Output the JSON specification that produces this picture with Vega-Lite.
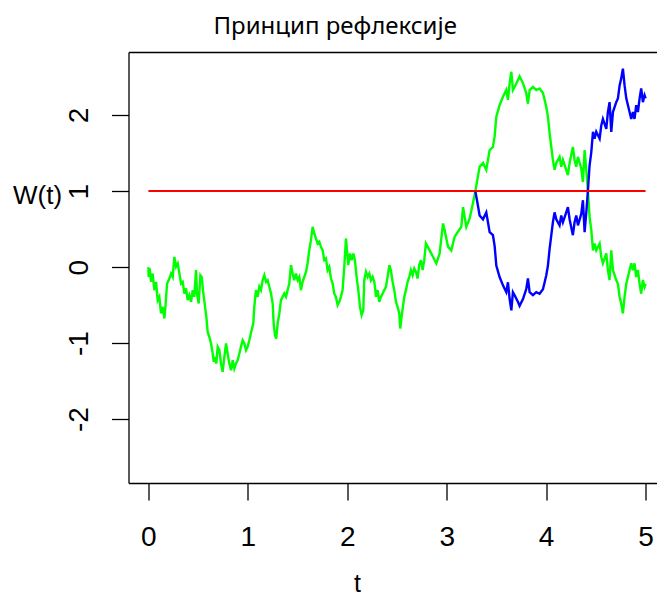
{
  "$schema": "https://vega.github.io/schema/vega-lite/v6.json",
  "width": 529,
  "height": 431,
  "autosize": {"type": "none"},
  "padding": {"left": 128.5, "top": 52, "right": 0, "bottom": 114},
  "background": "white",
  "title": {"text": "Принцип рефлексије", "anchor": "start", "frame": "group", "dx": 85, "offset": -6, "baseline": "alphabetic", "font": "Noto Sans", "fontSize": 24, "fontWeight": "normal", "color": "#000000"},
  "config": {"view": {"stroke": null}, "axis": {"grid": false}},
  "datasets": {
    "paths": [
      {"t": 0.000, "w": 0.000, "s": "g"},
      {"t": 0.003, "w": -0.128, "s": "g"},
      {"t": 0.013, "w": -0.018, "s": "g"},
      {"t": 0.027, "w": -0.194, "s": "g"},
      {"t": 0.043, "w": -0.084, "s": "g"},
      {"t": 0.060, "w": -0.303, "s": "g"},
      {"t": 0.077, "w": -0.194, "s": "g"},
      {"t": 0.094, "w": -0.435, "s": "g"},
      {"t": 0.110, "w": -0.391, "s": "g"},
      {"t": 0.127, "w": -0.610, "s": "g"},
      {"t": 0.144, "w": -0.523, "s": "g"},
      {"t": 0.161, "w": -0.676, "s": "g"},
      {"t": 0.171, "w": -0.523, "s": "g"},
      {"t": 0.188, "w": -0.215, "s": "g"},
      {"t": 0.211, "w": -0.150, "s": "g"},
      {"t": 0.228, "w": -0.084, "s": "g"},
      {"t": 0.245, "w": -0.128, "s": "g"},
      {"t": 0.261, "w": 0.135, "s": "g"},
      {"t": 0.278, "w": 0.004, "s": "g"},
      {"t": 0.295, "w": 0.048, "s": "g"},
      {"t": 0.312, "w": -0.084, "s": "g"},
      {"t": 0.328, "w": -0.215, "s": "g"},
      {"t": 0.345, "w": -0.194, "s": "g"},
      {"t": 0.362, "w": -0.347, "s": "g"},
      {"t": 0.379, "w": -0.281, "s": "g"},
      {"t": 0.395, "w": -0.435, "s": "g"},
      {"t": 0.412, "w": -0.369, "s": "g"},
      {"t": 0.429, "w": -0.457, "s": "g"},
      {"t": 0.446, "w": -0.303, "s": "g"},
      {"t": 0.462, "w": -0.391, "s": "g"},
      {"t": 0.479, "w": -0.040, "s": "g"},
      {"t": 0.489, "w": -0.347, "s": "g"},
      {"t": 0.506, "w": -0.479, "s": "g"},
      {"t": 0.523, "w": -0.106, "s": "g"},
      {"t": 0.536, "w": -0.128, "s": "g"},
      {"t": 0.549, "w": -0.303, "s": "g"},
      {"t": 0.570, "w": -0.523, "s": "g"},
      {"t": 0.583, "w": -0.654, "s": "g"},
      {"t": 0.596, "w": -0.852, "s": "g"},
      {"t": 0.613, "w": -0.918, "s": "g"},
      {"t": 0.630, "w": -1.005, "s": "g"},
      {"t": 0.647, "w": -1.137, "s": "g"},
      {"t": 0.657, "w": -1.247, "s": "g"},
      {"t": 0.670, "w": -1.181, "s": "g"},
      {"t": 0.683, "w": -1.269, "s": "g"},
      {"t": 0.697, "w": -1.049, "s": "g"},
      {"t": 0.714, "w": -1.093, "s": "g"},
      {"t": 0.730, "w": -1.269, "s": "g"},
      {"t": 0.747, "w": -1.378, "s": "g"},
      {"t": 0.764, "w": -1.181, "s": "g"},
      {"t": 0.781, "w": -1.005, "s": "g"},
      {"t": 0.797, "w": -1.137, "s": "g"},
      {"t": 0.814, "w": -1.269, "s": "g"},
      {"t": 0.831, "w": -1.357, "s": "g"},
      {"t": 0.848, "w": -1.225, "s": "g"},
      {"t": 0.864, "w": -1.335, "s": "g"},
      {"t": 0.881, "w": -1.269, "s": "g"},
      {"t": 0.898, "w": -1.225, "s": "g"},
      {"t": 0.915, "w": -1.137, "s": "g"},
      {"t": 0.931, "w": -1.049, "s": "g"},
      {"t": 0.948, "w": -0.962, "s": "g"},
      {"t": 0.965, "w": -1.005, "s": "g"},
      {"t": 0.982, "w": -1.093, "s": "g"},
      {"t": 0.998, "w": -1.049, "s": "g"},
      {"t": 1.015, "w": -0.962, "s": "g"},
      {"t": 1.038, "w": -0.830, "s": "g"},
      {"t": 1.055, "w": -0.742, "s": "g"},
      {"t": 1.065, "w": -0.523, "s": "g"},
      {"t": 1.082, "w": -0.303, "s": "g"},
      {"t": 1.099, "w": -0.391, "s": "g"},
      {"t": 1.116, "w": -0.259, "s": "g"},
      {"t": 1.132, "w": -0.303, "s": "g"},
      {"t": 1.149, "w": -0.172, "s": "g"},
      {"t": 1.166, "w": -0.106, "s": "g"},
      {"t": 1.183, "w": -0.194, "s": "g"},
      {"t": 1.199, "w": -0.172, "s": "g"},
      {"t": 1.216, "w": -0.259, "s": "g"},
      {"t": 1.233, "w": -0.347, "s": "g"},
      {"t": 1.250, "w": -0.479, "s": "g"},
      {"t": 1.260, "w": -0.742, "s": "g"},
      {"t": 1.273, "w": -0.896, "s": "g"},
      {"t": 1.286, "w": -0.940, "s": "g"},
      {"t": 1.300, "w": -0.742, "s": "g"},
      {"t": 1.317, "w": -0.610, "s": "g"},
      {"t": 1.333, "w": -0.435, "s": "g"},
      {"t": 1.350, "w": -0.391, "s": "g"},
      {"t": 1.367, "w": -0.347, "s": "g"},
      {"t": 1.384, "w": -0.391, "s": "g"},
      {"t": 1.400, "w": -0.303, "s": "g"},
      {"t": 1.417, "w": -0.215, "s": "g"},
      {"t": 1.434, "w": 0.026, "s": "g"},
      {"t": 1.451, "w": -0.084, "s": "g"},
      {"t": 1.467, "w": -0.172, "s": "g"},
      {"t": 1.484, "w": -0.084, "s": "g"},
      {"t": 1.501, "w": -0.172, "s": "g"},
      {"t": 1.518, "w": -0.128, "s": "g"},
      {"t": 1.534, "w": -0.303, "s": "g"},
      {"t": 1.551, "w": -0.194, "s": "g"},
      {"t": 1.568, "w": -0.128, "s": "g"},
      {"t": 1.585, "w": -0.062, "s": "g"},
      {"t": 1.601, "w": 0.048, "s": "g"},
      {"t": 1.618, "w": 0.223, "s": "g"},
      {"t": 1.635, "w": 0.355, "s": "g"},
      {"t": 1.652, "w": 0.530, "s": "g"},
      {"t": 1.668, "w": 0.443, "s": "g"},
      {"t": 1.685, "w": 0.377, "s": "g"},
      {"t": 1.702, "w": 0.311, "s": "g"},
      {"t": 1.719, "w": 0.333, "s": "g"},
      {"t": 1.735, "w": 0.267, "s": "g"},
      {"t": 1.752, "w": 0.223, "s": "g"},
      {"t": 1.769, "w": 0.092, "s": "g"},
      {"t": 1.786, "w": 0.114, "s": "g"},
      {"t": 1.802, "w": -0.040, "s": "g"},
      {"t": 1.819, "w": 0.004, "s": "g"},
      {"t": 1.836, "w": -0.150, "s": "g"},
      {"t": 1.853, "w": -0.215, "s": "g"},
      {"t": 1.869, "w": -0.347, "s": "g"},
      {"t": 1.886, "w": -0.391, "s": "g"},
      {"t": 1.903, "w": -0.501, "s": "g"},
      {"t": 1.920, "w": -0.457, "s": "g"},
      {"t": 1.936, "w": -0.391, "s": "g"},
      {"t": 1.953, "w": -0.303, "s": "g"},
      {"t": 1.970, "w": 0.004, "s": "g"},
      {"t": 1.987, "w": 0.377, "s": "g"},
      {"t": 1.997, "w": 0.223, "s": "g"},
      {"t": 2.010, "w": 0.026, "s": "g"},
      {"t": 2.027, "w": 0.179, "s": "g"},
      {"t": 2.044, "w": 0.092, "s": "g"},
      {"t": 2.061, "w": 0.179, "s": "g"},
      {"t": 2.077, "w": 0.092, "s": "g"},
      {"t": 2.094, "w": -0.128, "s": "g"},
      {"t": 2.111, "w": -0.303, "s": "g"},
      {"t": 2.128, "w": -0.523, "s": "g"},
      {"t": 2.144, "w": -0.632, "s": "g"},
      {"t": 2.161, "w": -0.567, "s": "g"},
      {"t": 2.171, "w": -0.172, "s": "g"},
      {"t": 2.188, "w": -0.062, "s": "g"},
      {"t": 2.205, "w": -0.128, "s": "g"},
      {"t": 2.222, "w": -0.084, "s": "g"},
      {"t": 2.238, "w": -0.172, "s": "g"},
      {"t": 2.255, "w": -0.128, "s": "g"},
      {"t": 2.272, "w": -0.194, "s": "g"},
      {"t": 2.289, "w": -0.391, "s": "g"},
      {"t": 2.305, "w": -0.303, "s": "g"},
      {"t": 2.322, "w": -0.457, "s": "g"},
      {"t": 2.339, "w": -0.391, "s": "g"},
      {"t": 2.356, "w": -0.347, "s": "g"},
      {"t": 2.372, "w": -0.303, "s": "g"},
      {"t": 2.389, "w": -0.259, "s": "g"},
      {"t": 2.406, "w": -0.128, "s": "g"},
      {"t": 2.423, "w": 0.026, "s": "g"},
      {"t": 2.439, "w": -0.040, "s": "g"},
      {"t": 2.456, "w": -0.194, "s": "g"},
      {"t": 2.473, "w": -0.303, "s": "g"},
      {"t": 2.490, "w": -0.457, "s": "g"},
      {"t": 2.506, "w": -0.523, "s": "g"},
      {"t": 2.523, "w": -0.610, "s": "g"},
      {"t": 2.533, "w": -0.808, "s": "g"},
      {"t": 2.546, "w": -0.654, "s": "g"},
      {"t": 2.560, "w": -0.523, "s": "g"},
      {"t": 2.573, "w": -0.391, "s": "g"},
      {"t": 2.590, "w": -0.303, "s": "g"},
      {"t": 2.607, "w": -0.194, "s": "g"},
      {"t": 2.624, "w": -0.128, "s": "g"},
      {"t": 2.640, "w": -0.040, "s": "g"},
      {"t": 2.657, "w": -0.106, "s": "g"},
      {"t": 2.674, "w": -0.018, "s": "g"},
      {"t": 2.691, "w": -0.062, "s": "g"},
      {"t": 2.707, "w": -0.150, "s": "g"},
      {"t": 2.724, "w": 0.026, "s": "g"},
      {"t": 2.741, "w": 0.092, "s": "g"},
      {"t": 2.758, "w": -0.040, "s": "g"},
      {"t": 2.774, "w": 0.092, "s": "g"},
      {"t": 2.791, "w": 0.311, "s": "g"},
      {"t": 2.829, "w": 0.220, "s": "g"},
      {"t": 2.862, "w": 0.136, "s": "g"},
      {"t": 2.896, "w": 0.048, "s": "g"},
      {"t": 2.929, "w": 0.180, "s": "g"},
      {"t": 2.963, "w": 0.575, "s": "g"},
      {"t": 2.979, "w": 0.487, "s": "g"},
      {"t": 3.013, "w": 0.270, "s": "g"},
      {"t": 3.046, "w": 0.220, "s": "g"},
      {"t": 3.080, "w": 0.400, "s": "g"},
      {"t": 3.113, "w": 0.465, "s": "g"},
      {"t": 3.147, "w": 0.530, "s": "g"},
      {"t": 3.164, "w": 0.790, "s": "g"},
      {"t": 3.197, "w": 0.530, "s": "g"},
      {"t": 3.231, "w": 0.640, "s": "g"},
      {"t": 3.264, "w": 0.840, "s": "g"},
      {"t": 3.288, "w": 1.000, "s": "g"},
      {"t": 3.314, "w": 1.19, "s": "g"},
      {"t": 3.331, "w": 1.32, "s": "g"},
      {"t": 3.365, "w": 1.37, "s": "g"},
      {"t": 3.398, "w": 1.28, "s": "g"},
      {"t": 3.415, "w": 1.41, "s": "g"},
      {"t": 3.432, "w": 1.54, "s": "g"},
      {"t": 3.465, "w": 1.58, "s": "g"},
      {"t": 3.482, "w": 1.72, "s": "g"},
      {"t": 3.499, "w": 1.98, "s": "g"},
      {"t": 3.532, "w": 2.13, "s": "g"},
      {"t": 3.566, "w": 2.24, "s": "g"},
      {"t": 3.599, "w": 2.33, "s": "g"},
      {"t": 3.616, "w": 2.20, "s": "g"},
      {"t": 3.633, "w": 2.42, "s": "g"},
      {"t": 3.650, "w": 2.57, "s": "g"},
      {"t": 3.666, "w": 2.33, "s": "g"},
      {"t": 3.683, "w": 2.37, "s": "g"},
      {"t": 3.717, "w": 2.46, "s": "g"},
      {"t": 3.733, "w": 2.51, "s": "g"},
      {"t": 3.767, "w": 2.42, "s": "g"},
      {"t": 3.800, "w": 2.29, "s": "g"},
      {"t": 3.817, "w": 2.15, "s": "g"},
      {"t": 3.834, "w": 2.33, "s": "g"},
      {"t": 3.867, "w": 2.37, "s": "g"},
      {"t": 3.901, "w": 2.33, "s": "g"},
      {"t": 3.934, "w": 2.35, "s": "g"},
      {"t": 3.968, "w": 2.29, "s": "g"},
      {"t": 3.985, "w": 2.20, "s": "g"},
      {"t": 4.001, "w": 2.11, "s": "g"},
      {"t": 4.018, "w": 1.98, "s": "g"},
      {"t": 4.035, "w": 1.76, "s": "g"},
      {"t": 4.052, "w": 1.58, "s": "g"},
      {"t": 4.068, "w": 1.41, "s": "g"},
      {"t": 4.085, "w": 1.28, "s": "g"},
      {"t": 4.102, "w": 1.37, "s": "g"},
      {"t": 4.135, "w": 1.45, "s": "g"},
      {"t": 4.152, "w": 1.32, "s": "g"},
      {"t": 4.169, "w": 1.41, "s": "g"},
      {"t": 4.202, "w": 1.28, "s": "g"},
      {"t": 4.219, "w": 1.21, "s": "g"},
      {"t": 4.236, "w": 1.37, "s": "g"},
      {"t": 4.269, "w": 1.58, "s": "g"},
      {"t": 4.286, "w": 1.41, "s": "g"},
      {"t": 4.303, "w": 1.32, "s": "g"},
      {"t": 4.320, "w": 1.45, "s": "g"},
      {"t": 4.353, "w": 1.30, "s": "g"},
      {"t": 4.370, "w": 1.12, "s": "g"},
      {"t": 4.387, "w": 1.54, "s": "g"},
      {"t": 4.404, "w": 1.28, "s": "g"},
      {"t": 4.420, "w": 1.00, "s": "g"},
      {"t": 4.437, "w": 0.66, "s": "g"},
      {"t": 4.454, "w": 0.49, "s": "g"},
      {"t": 4.471, "w": 0.22, "s": "g"},
      {"t": 4.487, "w": 0.31, "s": "g"},
      {"t": 4.504, "w": 0.22, "s": "g"},
      {"t": 4.538, "w": 0.31, "s": "g"},
      {"t": 4.554, "w": 0.14, "s": "g"},
      {"t": 4.571, "w": 0.05, "s": "g"},
      {"t": 4.605, "w": 0.18, "s": "g"},
      {"t": 4.621, "w": -0.04, "s": "g"},
      {"t": 4.638, "w": -0.17, "s": "g"},
      {"t": 4.655, "w": 0.22, "s": "g"},
      {"t": 4.672, "w": -0.04, "s": "g"},
      {"t": 4.705, "w": -0.17, "s": "g"},
      {"t": 4.722, "w": -0.22, "s": "g"},
      {"t": 4.739, "w": -0.39, "s": "g"},
      {"t": 4.755, "w": -0.48, "s": "g"},
      {"t": 4.772, "w": -0.61, "s": "g"},
      {"t": 4.789, "w": -0.39, "s": "g"},
      {"t": 4.806, "w": -0.22, "s": "g"},
      {"t": 4.839, "w": -0.04, "s": "g"},
      {"t": 4.856, "w": 0.05, "s": "g"},
      {"t": 4.873, "w": -0.04, "s": "g"},
      {"t": 4.889, "w": 0.05, "s": "g"},
      {"t": 4.906, "w": -0.13, "s": "g"},
      {"t": 4.923, "w": -0.04, "s": "g"},
      {"t": 4.940, "w": -0.22, "s": "g"},
      {"t": 4.956, "w": -0.35, "s": "g"},
      {"t": 4.973, "w": -0.17, "s": "g"},
      {"t": 4.990, "w": -0.26, "s": "g"},
      {"t": 5.000, "w": -0.22, "s": "g"},
      {"t": 3.288, "w": 1.00, "s": "b"},
      {"t": 3.314, "w": 0.81, "s": "b"},
      {"t": 3.331, "w": 0.68, "s": "b"},
      {"t": 3.365, "w": 0.63, "s": "b"},
      {"t": 3.398, "w": 0.72, "s": "b"},
      {"t": 3.415, "w": 0.59, "s": "b"},
      {"t": 3.432, "w": 0.46, "s": "b"},
      {"t": 3.465, "w": 0.42, "s": "b"},
      {"t": 3.482, "w": 0.28, "s": "b"},
      {"t": 3.499, "w": 0.02, "s": "b"},
      {"t": 3.532, "w": -0.13, "s": "b"},
      {"t": 3.566, "w": -0.24, "s": "b"},
      {"t": 3.599, "w": -0.33, "s": "b"},
      {"t": 3.616, "w": -0.20, "s": "b"},
      {"t": 3.633, "w": -0.42, "s": "b"},
      {"t": 3.650, "w": -0.57, "s": "b"},
      {"t": 3.666, "w": -0.33, "s": "b"},
      {"t": 3.683, "w": -0.37, "s": "b"},
      {"t": 3.717, "w": -0.46, "s": "b"},
      {"t": 3.733, "w": -0.51, "s": "b"},
      {"t": 3.767, "w": -0.42, "s": "b"},
      {"t": 3.800, "w": -0.29, "s": "b"},
      {"t": 3.817, "w": -0.15, "s": "b"},
      {"t": 3.834, "w": -0.33, "s": "b"},
      {"t": 3.867, "w": -0.37, "s": "b"},
      {"t": 3.901, "w": -0.33, "s": "b"},
      {"t": 3.934, "w": -0.35, "s": "b"},
      {"t": 3.968, "w": -0.29, "s": "b"},
      {"t": 3.985, "w": -0.20, "s": "b"},
      {"t": 4.001, "w": -0.11, "s": "b"},
      {"t": 4.018, "w": 0.02, "s": "b"},
      {"t": 4.035, "w": 0.24, "s": "b"},
      {"t": 4.052, "w": 0.42, "s": "b"},
      {"t": 4.068, "w": 0.59, "s": "b"},
      {"t": 4.085, "w": 0.72, "s": "b"},
      {"t": 4.102, "w": 0.63, "s": "b"},
      {"t": 4.135, "w": 0.55, "s": "b"},
      {"t": 4.152, "w": 0.68, "s": "b"},
      {"t": 4.169, "w": 0.59, "s": "b"},
      {"t": 4.202, "w": 0.72, "s": "b"},
      {"t": 4.219, "w": 0.79, "s": "b"},
      {"t": 4.236, "w": 0.63, "s": "b"},
      {"t": 4.269, "w": 0.42, "s": "b"},
      {"t": 4.286, "w": 0.59, "s": "b"},
      {"t": 4.303, "w": 0.68, "s": "b"},
      {"t": 4.320, "w": 0.55, "s": "b"},
      {"t": 4.353, "w": 0.70, "s": "b"},
      {"t": 4.370, "w": 0.88, "s": "b"},
      {"t": 4.387, "w": 0.46, "s": "b"},
      {"t": 4.404, "w": 0.72, "s": "b"},
      {"t": 4.420, "w": 1.00, "s": "b"},
      {"t": 4.437, "w": 1.34, "s": "b"},
      {"t": 4.454, "w": 1.51, "s": "b"},
      {"t": 4.471, "w": 1.78, "s": "b"},
      {"t": 4.487, "w": 1.69, "s": "b"},
      {"t": 4.504, "w": 1.78, "s": "b"},
      {"t": 4.538, "w": 1.69, "s": "b"},
      {"t": 4.554, "w": 1.86, "s": "b"},
      {"t": 4.571, "w": 1.95, "s": "b"},
      {"t": 4.605, "w": 1.82, "s": "b"},
      {"t": 4.621, "w": 2.04, "s": "b"},
      {"t": 4.638, "w": 2.17, "s": "b"},
      {"t": 4.655, "w": 1.78, "s": "b"},
      {"t": 4.672, "w": 2.04, "s": "b"},
      {"t": 4.705, "w": 2.17, "s": "b"},
      {"t": 4.722, "w": 2.22, "s": "b"},
      {"t": 4.739, "w": 2.39, "s": "b"},
      {"t": 4.755, "w": 2.48, "s": "b"},
      {"t": 4.772, "w": 2.61, "s": "b"},
      {"t": 4.789, "w": 2.39, "s": "b"},
      {"t": 4.806, "w": 2.22, "s": "b"},
      {"t": 4.839, "w": 2.04, "s": "b"},
      {"t": 4.856, "w": 1.95, "s": "b"},
      {"t": 4.873, "w": 2.04, "s": "b"},
      {"t": 4.889, "w": 1.95, "s": "b"},
      {"t": 4.906, "w": 2.13, "s": "b"},
      {"t": 4.923, "w": 2.04, "s": "b"},
      {"t": 4.940, "w": 2.22, "s": "b"},
      {"t": 4.956, "w": 2.35, "s": "b"},
      {"t": 4.973, "w": 2.17, "s": "b"},
      {"t": 4.990, "w": 2.26, "s": "b"},
      {"t": 5.000, "w": 2.22, "s": "b"}
    ],
    "level": [
      {"t0": 0, "t1": 5, "w": 1}
    ]
  },
  "layer": [
    {
      "data": {"name": "paths"},
      "mark": {"type": "line", "strokeWidth": 2.4},
      "encoding": {
        "x": {
          "field": "t", "type": "quantitative",
          "scale": {"domain": [-0.2, 5.12], "nice": false, "zero": false},
          "axis": {
            "orient": "bottom", "values": [0, 1, 2, 3, 4, 5],
            "domain": true, "domainColor": "#000000", "domainWidth": 1.3,
            "ticks": true, "tickSize": 17, "tickColor": "#000000", "tickWidth": 1.3,
            "labelFont": "Liberation Sans", "labelFontSize": 28, "labelColor": "#000000",
            "labelBaseline": "alphabetic", "labelPadding": 45, "labelFlush": false,
            "labelExpr": "'' + datum.value",
            "title": "t", "titleFont": "Liberation Sans", "titleFontSize": 25, "titleFontWeight": "normal",
            "titleColor": "#000000", "titleX": 228.5, "titleY": 108, "titleAlign": "center", "titleBaseline": "alphabetic"
          }
        },
        "y": {
          "field": "w", "type": "quantitative",
          "scale": {"domain": [-2.84, 2.83], "nice": false, "zero": false},
          "axis": {
            "orient": "left", "values": [-2, -1, 0, 1, 2],
            "domain": true, "domainColor": "#000000", "domainWidth": 1.3,
            "ticks": true, "tickSize": 17, "tickColor": "#000000", "tickWidth": 1.3,
            "labelFont": "Liberation Sans", "labelFontSize": 28, "labelColor": "#000000",
            "labelAngle": -90, "labelAlign": "center", "labelBaseline": "alphabetic", "labelPadding": 24.5, "labelFlush": false,
            "labelExpr": "'' + datum.value",
            "title": "W(t)", "titleFont": "Liberation Sans", "titleFontSize": 26, "titleFontWeight": "normal",
            "titleColor": "#000000", "titleAngle": 0, "titleX": -91.5, "titleY": 151, "titleAlign": "center", "titleBaseline": "alphabetic"
          }
        },
        "color": {
          "field": "s", "type": "nominal",
          "scale": {"domain": ["g", "b"], "range": ["#00FF00", "#0000FF"]},
          "legend": null
        }
      }
    },
    {
      "data": {"name": "level"},
      "mark": {"type": "rule", "color": "#FF0000", "strokeWidth": 2},
      "encoding": {
        "x": {
          "field": "t0", "type": "quantitative",
          "axis": {"orient": "top", "labels": false, "ticks": false, "domain": true, "domainColor": "#000000", "domainWidth": 1.3, "title": null, "grid": false}
        },
        "x2": {"field": "t1"},
        "y": {"field": "w", "type": "quantitative", "axis": null}
      }
    }
  ],
  "resolve": {"axis": {"x": "independent", "y": "independent"}}
}
